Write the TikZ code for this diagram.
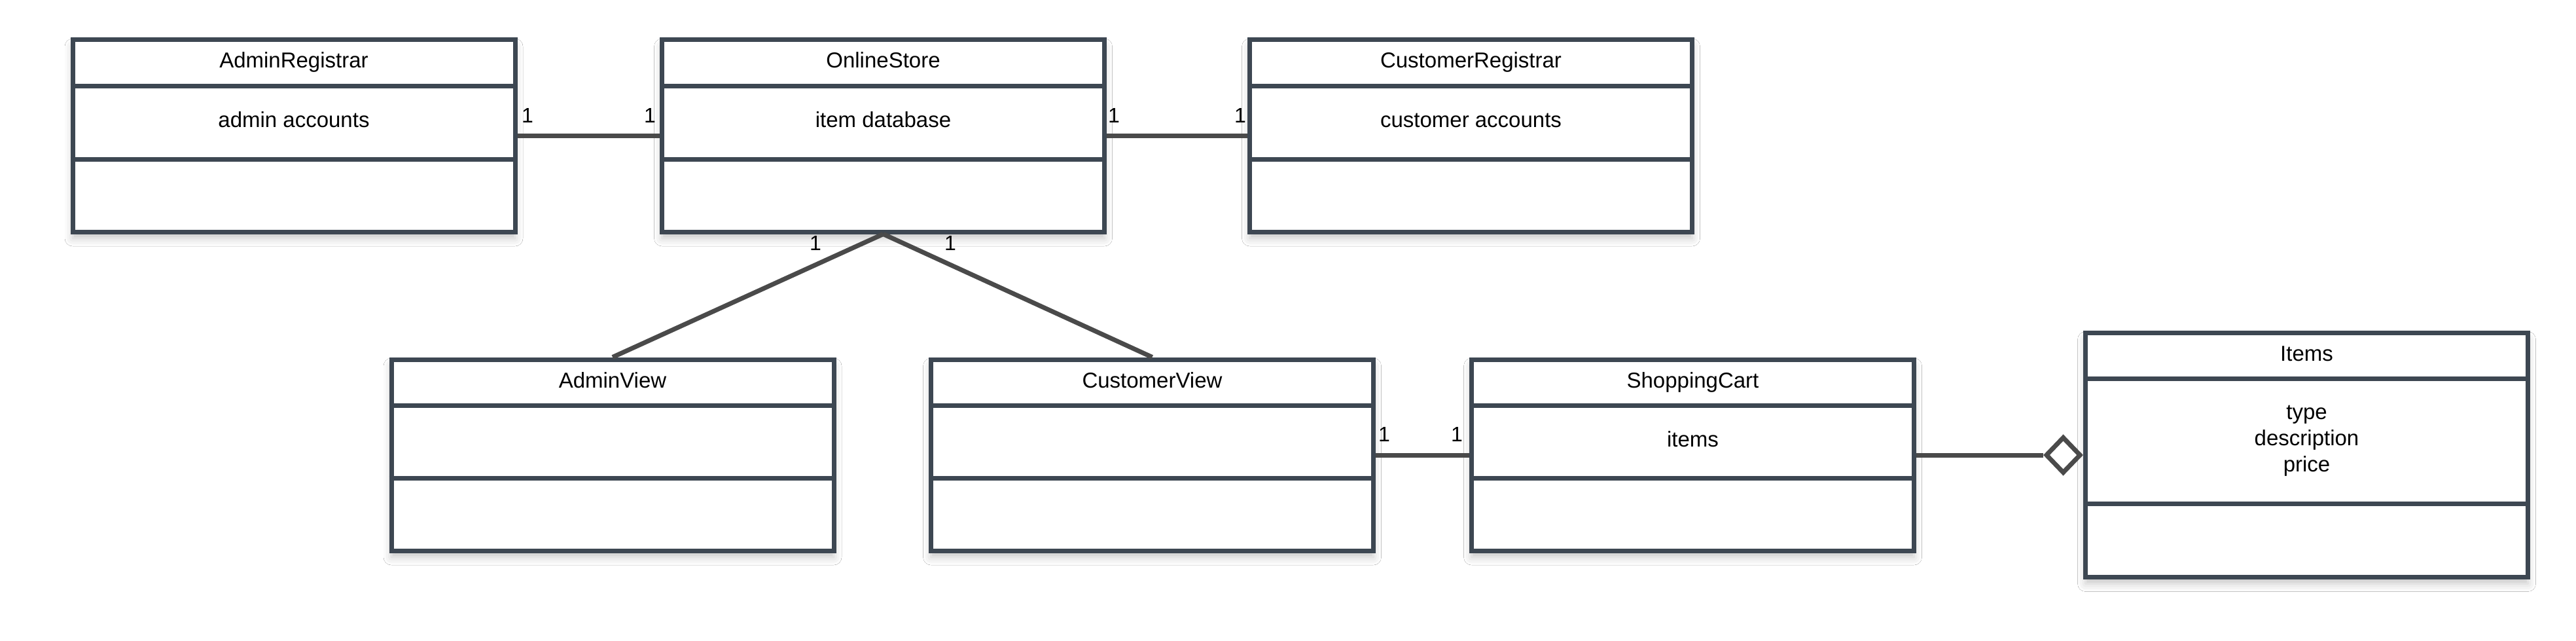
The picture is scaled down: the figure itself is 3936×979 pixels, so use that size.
\documentclass[tikz,border=0pt]{standalone}
\usepackage{fontspec}
\setmainfont{Liberation Sans}
\usetikzlibrary{shapes.geometric,shadows.blur}
\definecolor{boxc}{HTML}{3D4752}
\definecolor{linec}{HTML}{4A4A4A}
\tikzset{
 umlbox/.style={draw=boxc, line width=7pt, fill=white, minimum width=676pt, inner sep=0pt,
   blur shadow={shadow xshift=0pt, shadow yshift=-10pt, shadow blur radius=12pt, shadow opacity=22}},
 divider/.style={draw=boxc, line width=7pt},
 txt/.style={font=\fontsize{33}{40}\selectfont, inner sep=0pt, align=center, text=black},
 mult/.style={font=\fontsize{32}{38}\selectfont, inner sep=0pt, anchor=base, text=black},
 assoc/.style={draw=linec, line width=7pt},
 aggr/.style={diamond, draw=linec, line width=7pt, fill=white, minimum width=54pt, minimum height=56pt, inner sep=0pt}
}
% name, cx, top, height, div1, div2, title
\newcommand{\umlcls}[7]{%
 \node[umlbox, minimum height=#4pt] (#1) at (#2,{#3+#4/2}) {};
 \draw[divider] ({#2-341.5},{#3+#5}) -- ({#2+341.5},{#3+#5});
 \draw[divider] ({#2-341.5},{#3+#6}) -- ({#2+341.5},{#3+#6});
 \node[txt, anchor=base] (#1-name) at (#2,{#3+43}) {#7};
}
\begin{document}
\begin{tikzpicture}[x=1pt,y=-1pt]
\path[use as bounding box, fill=white] (0,0) rectangle (3936,979);
\umlcls{AR}{449}{61}{293}{71}{182}{AdminRegistrar}
\umlcls{OS}{1349.5}{61}{293}{71}{182}{OnlineStore}
\umlcls{CR}{2247.5}{61}{293}{71}{182}{CustomerRegistrar}
\umlcls{AV}{936}{549}{292}{70}{181}{AdminView}
\umlcls{CV}{1760.5}{549}{292}{70}{181}{CustomerView}
\umlcls{SC}{2586.5}{549}{292}{70}{181}{ShoppingCart}
\umlcls{IT}{3524.5}{508.5}{373}{70}{261}{Items}
\node[txt, anchor=base] (AR-attr) at (449,194) {admin accounts};
\node[txt, anchor=base] (OS-attr) at (1349.5,194) {item database};
\node[txt, anchor=base] (CR-attr) at (2247.5,194) {customer accounts};
\node[txt, anchor=base] (SC-attr) at (2586.5,682) {items};
\node[txt] (IT-attr) at (3524.5,673.5) {type\\description\\price};
\draw[assoc] (AR.east) -- (OS.west);
\draw[assoc] (OS.east) -- (CR.west);
\draw[assoc] (OS.south) -- (AV.north);
\draw[assoc] (OS.south) -- (CV.north);
\draw[assoc] (CV.east) -- (SC.west);
\node[aggr, anchor=east] (dia) at (IT.west) {};
\draw[assoc] (SC.east) -- (dia.west);
\node[mult] (m1) at (806,187) {1};
\node[mult] (m2) at (993,187) {1};
\node[mult] (m3) at (1702,187) {1};
\node[mult] (m4) at (1895,187) {1};
\node[mult] (m5) at (1246,382) {1};
\node[mult] (m6) at (1452,382) {1};
\node[mult] (m7) at (2115,674) {1};
\node[mult] (m8) at (2226,674) {1};
\end{tikzpicture}
\end{document}
